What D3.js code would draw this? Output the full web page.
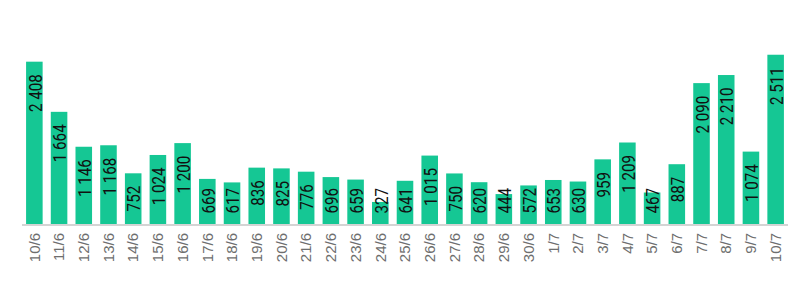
<!DOCTYPE html>
<html>
<head>
<meta charset="utf-8">
<script src="https://cdn.jsdelivr.net/npm/d3@7"></script>
<style>
  html, body { margin: 0; padding: 0; background: #fff; }
  svg { display: block; }
</style>
</head>
<body>
<div id="chart"></div>
<script>
const days = ["10/6", "11/6", "12/6", "13/6", "14/6", "15/6", "16/6", "17/6", "18/6", "19/6",
  "20/6", "21/6", "22/6", "23/6", "24/6", "25/6", "26/6", "27/6", "28/6", "29/6", "30/6",
  "1/7", "2/7", "3/7", "4/7", "5/7", "6/7", "7/7", "8/7", "9/7", "10/7"];
const counts = [2408, 1664, 1146, 1168, 752, 1024, 1200, 669, 617, 836,
  825, 776, 696, 659, 327, 641, 1015, 750, 620, 444, 572,
  653, 630, 959, 1209, 467, 887, 2090, 2210, 1074, 2511];

(function () {
  const width = 811, height = 292;
  const axisY = 224;
  const squeeze = 0.82; // police étroite façon DIN

  const svg = d3.select("#chart").append("svg")
    .attr("width", width)
    .attr("height", height);

  const x = d3.scaleBand()
    .domain(days)
    .range([22, 788])
    .paddingInner(0.33)
    .paddingOuter(0.165);

  const y = d3.scaleLinear()
    .domain([0, 2700])
    .range([axisY, 42]);

  const data = days.map((d, i) => ({ day: d, value: counts[i] }));

  // barres
  svg.selectAll(".bar")
    .data(data)
    .join("rect")
    .attr("class", "bar")
    .attr("x", d => x(d.day))
    .attr("y", d => y(d.value))
    .attr("width", x.bandwidth())
    .attr("height", d => axisY - y(d.value))
    .attr("fill", "#15c794");

  // axe X
  const xAxis = svg.append("g")
    .attr("transform", `translate(0,${axisY})`)
    .call(d3.axisBottom(x).tickSize(0).tickPadding(0));
  xAxis.select(".domain")
    .attr("d", "M22,1H788")
    .attr("stroke", "#d4d4d4")
    .attr("stroke-width", 2);
  xAxis.selectAll(".tick text")
    .attr("transform", "rotate(-90)")
    .attr("text-anchor", "end")
    .attr("x", -9)
    .attr("y", 0)
    .attr("dy", "0.35em")
    .attr("fill", "#6e6e6e")
    .style("font-family", "'Liberation Sans', Arial, sans-serif")
    .style("font-size", "15px");

  // étiquettes de valeur
  const fmt = v => d3.format(",")(v).replace(/,/g, " ");
  const labels = svg.selectAll(".lbl")
    .data(data)
    .join("text")
    .attr("class", "lbl")
    .attr("text-anchor", "end")
    .attr("dy", "0.39em")
    .attr("fill", "#111")
    .style("font-family", "Roboto, 'Noto Sans', sans-serif")
    .style("font-size", "18.5px")
    .text(d => fmt(d.value));

  labels.each(function (d) {
    const len = this.getComputedTextLength() * squeeze;
    let top = y(d.value) + 12.5;
    if (top + len > 213.5) top = 213.5 - len;
    const cx = x(d.day) + x.bandwidth() / 2;
    d3.select(this).attr("transform", `translate(${cx},${top}) rotate(-90) scale(${squeeze},1)`);
  });
})();
</script>
</body>
</html>
